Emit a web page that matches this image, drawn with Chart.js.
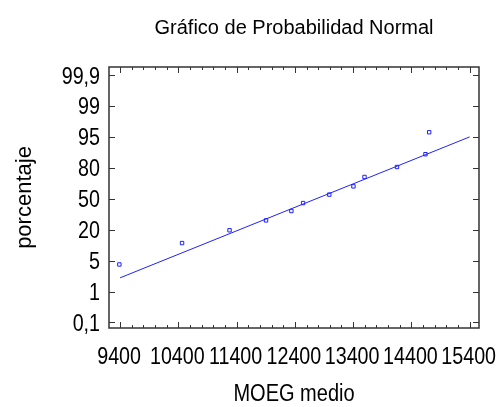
<!DOCTYPE html>
<html>
<head>
<meta charset="utf-8">
<script src="https://cdn.jsdelivr.net/npm/chart.js@4.4.1/dist/chart.umd.min.js"></script>
<style>
  html, body { margin: 0; padding: 0; background: #fff; }
  #wrap { width: 498px; height: 407px; }
</style>
</head>
<body>
<div id="wrap"><canvas id="grafico" width="498" height="407"></canvas></div>
<script>
// datos
const moegMedio = [9388, 10464, 11279, 11905, 12340, 12541, 12991, 13405, 13595, 14153, 14641, 14705];
const porcentaje = [4.5, 13.5, 19.7, 29.0, 38.1, 45.8, 54.0, 62.0, 71.1, 80.4, 86.6, 95.6];

// recta ajustada (extremos)
const rectaX = [9400, 15400];
const rectaP = [2.77, 95.0];

// marcas de los ejes
const xTicks = [9400, 10400, 11400, 12400, 13400, 14400, 15400];
const yTickVals = [0.1, 1, 5, 20, 50, 80, 95, 99, 99.9];
const yLabels = ['0,1', '1', '5', '20', '50', '80', '95', '99', '99,9'];

// el eje de probabilidad pone las etiquetas equiespaciadas: paso de % a posicion
function posY(p) {
    for (let i = 0; i < yTickVals.length - 1; i++) {
        if (p <= yTickVals[i + 1]) {
            return i + (p - yTickVals[i]) / (yTickVals[i + 1] - yTickVals[i]);
        }
    }
    return yTickVals.length - 1;
}

const puntos = moegMedio.map((x, i) => ({ x: x, y: posY(porcentaje[i]) }));
const recta = rectaX.map((x, i) => ({ x: x, y: posY(rectaP[i]) }));

const fuente = "'Liberation Sans', Arial, sans-serif";

// texto estrecho (la fuente original es condensada)
function textoEstrecho(ctx, txt, x, y, size, k, align) {
    ctx.save();
    ctx.font = size + 'px ' + fuente;
    ctx.textAlign = align;
    ctx.textBaseline = 'alphabetic';
    ctx.translate(x, y);
    ctx.scale(k, 1);
    ctx.fillText(txt, 0, 0);
    ctx.restore();
}

// marco, marcas hacia dentro y etiquetas
const marco = {
    id: 'marco',
    afterDatasetsDraw(chart) {
        const { ctx, chartArea: a, scales: { x, y } } = chart;
        ctx.save();
        ctx.strokeStyle = '#333';
        ctx.lineWidth = 1.5;
        ctx.strokeRect(a.left, a.top, a.right - a.left, a.bottom - a.top);
        ctx.lineWidth = 1;
        ctx.beginPath();
        for (let v = 9400 - 200; v <= x.max; v += 200) {
            if (v < x.min) continue;
            const px = Math.round(x.getPixelForValue(v)) + 0.5;
            const len = xTicks.includes(v) ? 6 : 3;
            ctx.moveTo(px, a.bottom); ctx.lineTo(px, a.bottom - len);
            ctx.moveTo(px, a.top); ctx.lineTo(px, a.top + len);
        }
        yTickVals.forEach((v, i) => {
            const py = Math.round(y.getPixelForValue(i)) + 0.5;
            ctx.moveTo(a.left, py); ctx.lineTo(a.left + 6, py);
            ctx.moveTo(a.right, py); ctx.lineTo(a.right - 6, py);
        });
        ctx.stroke();

        ctx.fillStyle = '#000';
        x.ticks.forEach(t => {
            textoEstrecho(ctx, String(t.value), x.getPixelForValue(t.value) - 1, 364, 24, 0.82, 'center');
        });
        y.ticks.forEach(t => {
            textoEstrecho(ctx, yLabels[t.value], a.left - 9, y.getPixelForValue(t.value) + 8.5, 24, 0.82, 'right');
        });
        textoEstrecho(ctx, 'MOEG medio', (a.left + a.right) / 2, 401, 23, 0.87, 'center');
        ctx.restore();
    }
};

new Chart(document.getElementById('grafico'), {
    type: 'scatter',
    data: {
        datasets: [{
            label: 'datos',
            data: puntos,
            pointStyle: 'rect',
            pointRadius: 2.4,
            borderWidth: 1,
            borderColor: '#2020ff',
            backgroundColor: 'rgba(255,255,255,0)'
        }, {
            label: 'recta',
            type: 'line',
            data: recta,
            showLine: true,
            pointRadius: 0,
            borderWidth: 1,
            borderColor: '#2020ff',
            fill: false
        }]
    },
    options: {
        responsive: false,
        animation: false,
        layout: { padding: { left: 0, right: 19, top: 0, bottom: 0 } },
        plugins: {
            legend: { display: false },
            tooltip: { enabled: false },
            title: {
                display: true,
                text: 'Gráfico de Probabilidad Normal',
                fullSize: false,
                color: '#000',
                font: { family: fuente, size: 20, weight: 'normal' },
                padding: { top: 16, bottom: 27 }
            }
        },
        scales: {
            x: {
                type: 'linear',
                min: 9210,
                max: 15560,
                afterBuildTicks: s => { s.ticks = xTicks.map(v => ({ value: v })); },
                afterFit: s => { s.height = 79; },
                grid: { display: false, drawTicks: false },
                border: { display: false },
                ticks: { display: false }
            },
            y: {
                type: 'linear',
                min: -0.18,
                max: 8.26,
                afterBuildTicks: s => { s.ticks = yLabels.map((t, i) => ({ value: i })); },
                afterFit: s => { s.width = 109; },
                grid: { display: false, drawTicks: false },
                border: { display: false },
                ticks: { display: false },
                title: {
                    display: true,
                    text: 'porcentaje',
                    color: '#000',
                    font: { family: fuente, size: 22 },
                    padding: { top: 12, bottom: 0 }
                }
            }
        }
    },
    plugins: [marco]
});
</script>
</body>
</html>
